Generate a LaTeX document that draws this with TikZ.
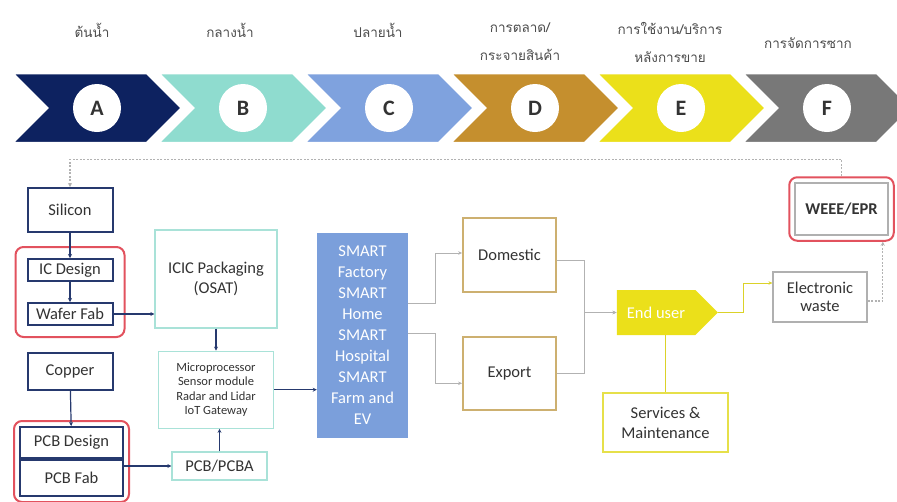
\documentclass[tikz,border=0pt]{standalone}
\usepackage{fontspec}
\setmainfont{Carlito}
\newfontfamily\thaifont[Script=Thai]{Loma}
\usetikzlibrary{arrows.meta,positioning,shapes.symbols,fit}

% stage colours
\definecolor{stageA}{HTML}{0D2260}
\definecolor{stageB}{HTML}{8FDCCF}
\definecolor{stageC}{HTML}{7FA2DE}
\definecolor{stageD}{HTML}{C58F2E}
\definecolor{stageE}{HTML}{EBE01A}
\definecolor{stageF}{HTML}{787878}
% box colours
\definecolor{boxnavy}{HTML}{26396E}
\definecolor{boxteal}{HTML}{A9E2D8}
\definecolor{boxgold}{HTML}{CDB070}
\definecolor{boxyellow}{HTML}{E6E04A}
\definecolor{boxgray}{HTML}{B0B0B0}
\definecolor{smartblue}{HTML}{7B9FDB}
\definecolor{framered}{HTML}{E2525E}

\begin{document}
\begin{tikzpicture}[
    x=1pt, y=-1pt,
    stagebar/.style={signal, signal from=west, signal to=east, signal pointer angle=90, minimum width=170pt, minimum height=70pt, inner sep=0pt, draw=white, line width=2.5pt},
    stageletter/.style={circle, fill=white, minimum size=48pt, inner sep=0pt, font=\fontsize{22}{24}\selectfont\bfseries, text=black!80},
    stagename/.style={align=center, text=black!70, font=\thaifont\fontsize{13.5}{28}\selectfont},
    rawbox/.style={draw=boxnavy, line width=2pt, fill=white, minimum width=85pt, inner sep=1pt, align=center, font=\fontsize{16.5}{20}\selectfont, text=black!80},
    partbox/.style={draw=boxteal, line width=1.2pt, fill=white, inner sep=1pt, align=center, font=\fontsize{16.5}{20}\selectfont, text=black!80},
    marketbox/.style={draw=boxgold, line width=1.8pt, fill=white, minimum width=93pt, align=center, font=\fontsize{16.5}{20}\selectfont, text=black!80},
    redframe/.style={draw=framered, line width=2pt, rounded corners=8pt},
    navylink/.style={draw=boxnavy, line width=1.2pt, -{Stealth[length=4pt,width=4pt]}},
    graylink/.style={draw=gray!60, line width=0.8pt, -{Stealth[length=4pt,width=3.5pt]}},
    yellowlink/.style={draw=stageE!85!gray, line width=1pt},
    dashlink/.style={draw=gray!60, line width=1.2pt, dash pattern=on 2pt off 1.5pt, -{Stealth[length=4pt,width=4pt]}}
]
\useasboundingbox (0,0) rectangle (897,501);

% value chain stages
\node[stagebar, fill=stageA] (barA) at (97,108) {};
\node[stagebar, fill=stageB] (barB) at (243,108) {};
\node[stagebar, fill=stageC] (barC) at (389,108) {};
\node[stagebar, fill=stageD] (barD) at (535,108) {};
\node[stagebar, fill=stageE] (barE) at (681,108) {};
\node[stagebar, fill=stageF] (barF) at (827,108) {};
\node[stageletter] (letterA) at (barA) {A};
\node[stageletter] (letterB) at (barB) {B};
\node[stageletter] (letterC) at (barC) {C};
\node[stageletter] (letterD) at (barD) {D};
\node[stageletter] (letterE) at (barE) {E};
\node[stageletter] (letterF) at (barF) {F};
\node[stagename] (nameA) at (92,30) {ต้นน้ำ};
\node[stagename] (nameB) at (230,30) {กลางน้ำ};
\node[stagename] (nameC) at (378,30) {ปลายน้ำ};
\node[stagename] (nameD) at (520,42) {การตลาด/\\กระจายสินค้า};
\node[stagename] (nameE) at (670,42) {การใช้งาน/บริการ\\หลังการขาย};
\node[stagename] (nameF) at (808,43) {การจัดการซาก};

% upstream: chips
\node[rawbox, minimum height=44pt] (silicon) at (70,210) {Silicon};
\node[rawbox, minimum height=22pt, below=25pt of silicon] (icdesign) {IC Design};
\node[rawbox, minimum height=22pt, below=20pt of icdesign] (waferfab) {Wafer Fab};
\node[redframe, fit=(icdesign)(waferfab), inner sep=11pt] (icframe) {};

% upstream: boards
\node[rawbox, minimum height=37pt] (copper) at (70,371.5) {Copper};
\node[rawbox, minimum width=103pt, minimum height=31pt] (pcbdesign) at (71.5,442.5) {PCB Design};
\node[rawbox, minimum width=103pt, minimum height=36pt, below=0pt of pcbdesign] (pcbfab) {PCB Fab};
\node[redframe, fit=(pcbdesign)(pcbfab), inner sep=5pt] (pcbframe) {};

% midstream
\node[partbox, minimum width=122pt, minimum height=98pt] (icic) at (216,279) {ICIC Packaging\\(OSAT)};
\node[partbox, minimum width=115pt, minimum height=77pt, below=22pt of icic, font=\fontsize{12.5}{14.5}\selectfont] (micro) {Microprocessor\\Sensor module\\Radar and Lidar\\IoT Gateway};
\node[partbox, minimum width=95pt, minimum height=28pt] (pcba) at (219.5,466) {PCB/PCBA};

% downstream
\node[fill=smartblue, minimum width=91pt, minimum height=205pt, align=center, text=white, font=\fontsize{16.5}{21}\selectfont] (smart) at (362.5,335.5) {SMART\\Factory\\SMART\\Home\\SMART\\Hospital\\SMART\\Farm and\\EV};

% distribution
\node[marketbox, minimum height=74pt] (domestic) at (509.5,255) {Domestic};
\node[marketbox, minimum height=73pt, below=43pt of domestic] (export) {Export};

% use and after-sales
\node[signal, signal to=east, signal pointer angle=90, fill=stageE, minimum width=101pt, minimum height=45pt, inner sep=0pt, text=white, font=\fontsize{16.5}{20}\selectfont] (enduser) at (656,312.5) {End user};
\node[draw=boxyellow, line width=2.5pt, fill=white, minimum width=125pt, minimum height=59pt, align=center, text=black!80, font=\fontsize{16.5}{20}\selectfont] (services) at (665.5,422.5) {Services \&\\Maintenance};

% end of life
\node[draw=boxgray, line width=1.2pt, fill=white, minimum width=94pt, minimum height=50pt, align=center, text=black!80, font=\fontsize{16.5}{18}\selectfont] (ewaste) at (820,297) {Electronic\\waste};
\node[draw=boxgray, line width=1.5pt, fill=white, minimum width=93pt, minimum height=52pt, text=black!80, font=\fontsize{16.5}{20}\selectfont\bfseries] (weee) at (841.5,209) {WEEE/EPR};
\node[redframe, fit=(weee), inner sep=5pt] (weeeframe) {};

% links
\draw[navylink] (silicon) -- (icdesign);
\draw[navylink] (icdesign) -- (waferfab);
\draw[navylink] (waferfab.east) -- (waferfab.east -| icic.west);
\draw[navylink] (copper) -- (pcbdesign);
\draw[navylink] (pcbfab.east |- pcba.west) -- (pcba.west);
\draw[navylink] (icic.south) -- (icic.south |- micro.north);
\draw[navylink] (pcba.north) -- (pcba.north |- micro.south);
\draw[navylink] (micro.east) -- (micro.east -| smart.west);
\draw[graylink] ([yshift=32pt]smart.east) -- ++(27,0) |- ([yshift=2pt]domestic.west);
\draw[graylink] ([yshift=2pt]smart.east) -- ++(27,0) |- ([yshift=-10pt]export.west);
\draw[graylink] ([yshift=-5pt]domestic.east) -- ++(27,0) |- (enduser.west);
\draw[graylink] (export.east) -- ++(27,0) |- (enduser.west);
\draw[yellowlink] (services.north) -- (services.north |- enduser.south);
\draw[yellowlink, -{Stealth[length=4pt,width=3.5pt]}] (enduser.east) -- ++(25,0) |- ([yshift=14pt]ewaste.west);
\draw[dashlink] ([yshift=-4pt]ewaste.east) -| ([xshift=-12pt]weeeframe.south east);
\draw[dashlink] (weeeframe.north) -- ++(0,-17) -| (silicon.north);
\end{tikzpicture}
\end{document}
